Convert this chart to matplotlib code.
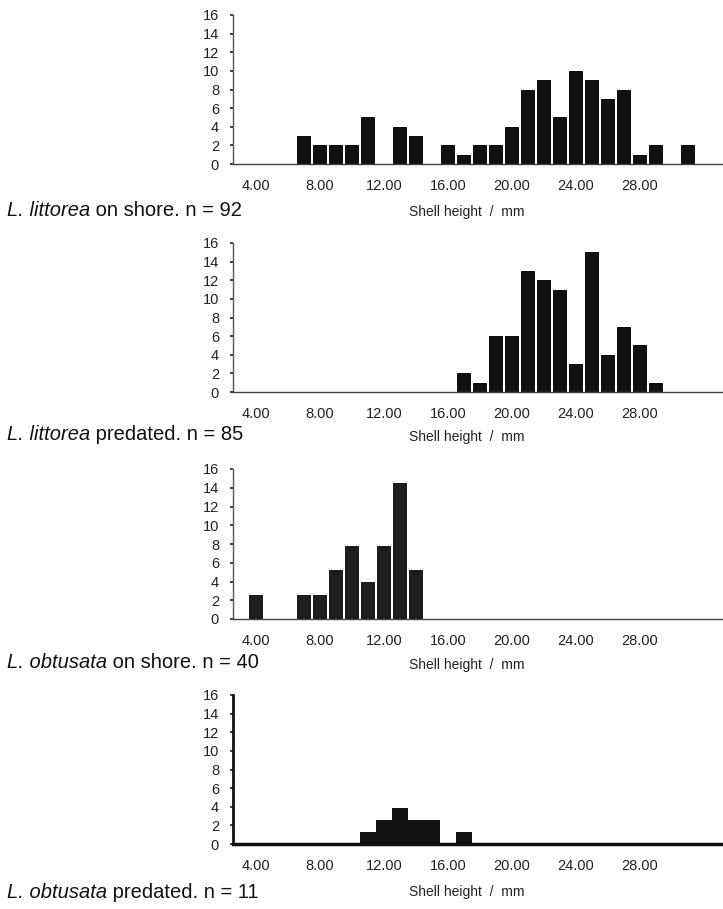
import matplotlib
matplotlib.use("Agg")
import matplotlib.pyplot as plt

plt.rcParams['font.family'] = ['Liberation Sans', 'DejaVu Sans']

# ---- data (shell height bins in mm, counts read against printed y labels) ----
shore_litt_x = [7, 8, 9, 10, 11, 13, 14, 16, 17, 18, 19, 20, 21, 22, 23, 24, 25, 26, 27, 28, 29, 31]
shore_litt_y = [3, 2, 2, 2, 5, 4, 3, 2, 1, 2, 2, 4, 8, 9, 5, 10, 9, 7, 8, 1, 2, 2]

pred_litt_x = [17, 18, 19, 20, 21, 22, 23, 24, 25, 26, 27, 28, 29]
pred_litt_y = [2, 1, 6, 6, 13, 12, 11, 3, 15, 4, 7, 5, 1]

shore_obt_x = [4, 7, 8, 9, 10, 11, 12, 13, 14]
shore_obt_y = [2.6, 2.6, 2.6, 5.2, 7.8, 3.9, 7.8, 14.5, 5.2]

pred_obt_x = [11, 12, 13, 14, 15, 17]
pred_obt_y = [1.25, 2.6, 3.9, 2.6, 2.6, 1.25]

x_ticks = [4, 8, 12, 16, 20, 24, 28]
x_tick_labels = ["4.00", "8.00", "12.00", "16.00", "20.00", "24.00", "28.00"]
y_ticks = [0, 2, 4, 6, 8, 10, 12, 14, 16]

captions = [
    ("L. littorea", " on shore. n = 92"),
    ("L. littorea", " predated. n = 85"),
    ("L. obtusata", " on shore. n = 40"),
    ("L. obtusata", " predated. n = 11"),
]
xlabel = "Shell height  /  mm"

W, H = 723, 909
fig = plt.figure(figsize=(W / 100, H / 100), dpi=100)
fig.patch.set_facecolor('white')

# panel pixel geometry: (top, bottom, caption_y, xlabel_y)
panels = [
    (15, 164, 211, 212),
    (243, 392, 435, 437),
    (469, 619, 663, 665),
    (695, 844, 893, 892),
]
series = [
    (shore_litt_x, shore_litt_y, 0.85, '#111111'),
    (pred_litt_x, pred_litt_y, 0.85, '#111111'),
    (shore_obt_x, shore_obt_y, 0.88, '#1e1e1e'),
    (pred_obt_x, pred_obt_y, 1.0, '#111111'),
]

left_px = 233
renderer = fig.canvas.get_renderer()

for i, ((top, bot, cy, ly), (xs, ys, w, col)) in enumerate(zip(panels, series)):
    ax = fig.add_axes([left_px / W, 1 - bot / H, (W - left_px) / W, (bot - top) / H])
    ax.bar(xs, ys, width=w, color=col, edgecolor='none', zorder=2)
    ax.set_xlim(2.56, 33.2)
    ax.set_ylim(0, 16)
    ax.set_xticks(x_ticks)
    ax.set_xticklabels(x_tick_labels)
    ax.set_yticks(y_ticks)
    ax.set_yticklabels([str(v) for v in y_ticks])
    ax.tick_params(axis='x', length=0, pad=11, labelsize=10.5, colors='#222222')
    ax.tick_params(axis='y', length=2, width=1.2, pad=8, labelsize=10.5, colors='#222222')
    for s in ['top', 'right']:
        ax.spines[s].set_visible(False)
    ax.spines['left'].set_color('#555555' if i < 3 else '#111111')
    ax.spines['left'].set_linewidth(1.0 if i < 3 else 2.0)
    ax.spines['bottom'].set_color('#444444' if i < 3 else '#111111')
    ax.spines['bottom'].set_linewidth(1.0 if i < 3 else 2.5)
    ax.patch.set_alpha(0)

    # x label
    fig.text(467 / W, 1 - ly / H, xlabel, ha='center', va='center', fontsize=10, color='#222222')

    # caption: italic species + regular rest
    it, rest = captions[i]
    t1 = fig.text(7 / W, 1 - cy / H, it, ha='left', va='center', fontsize=14.5,
                  style='italic', color='#111111')
    bb = t1.get_window_extent(renderer=renderer)
    fig.text(bb.x1 / W, 1 - cy / H, rest, ha='left', va='center', fontsize=14.5, color='#111111')

fig.savefig("out.png", dpi=100, facecolor='white')
